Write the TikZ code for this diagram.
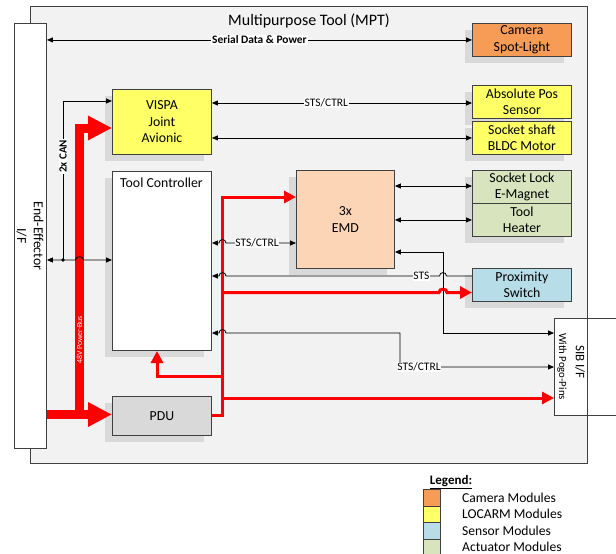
\documentclass[tikz,border=0pt]{standalone}
\usepackage{fontspec}
\setmainfont{Carlito}
\usetikzlibrary{arrows.meta,shadows}
\definecolor{bord}{HTML}{404040}
\definecolor{mptbg}{HTML}{F2F2F2}
\definecolor{shadowc}{HTML}{D9D9D9}
\definecolor{camc}{HTML}{F69C56}
\definecolor{locc}{HTML}{FFFF66}
\definecolor{senc}{HTML}{B7DDE8}
\definecolor{actc}{HTML}{D7E4BD}
\definecolor{emdc}{HTML}{FBD5B5}
\definecolor{pduc}{HTML}{D9D9D9}
\definecolor{pred}{HTML}{FF0000}
\begin{document}
\begin{tikzpicture}[x=1pt,y=-1pt,
  box/.style={draw=bord, line width=0.9pt, inner sep=0pt, anchor=north west, align=center,
    font=\fontsize{13.8}{16.6}\selectfont},
  shad/.style={drop shadow={shadow xshift=-7pt,shadow yshift=-7pt,fill=shadowc,opacity=1}},
  txt/.style={inner sep=0pt, align=center, font=\fontsize{13.8}{16.6}\selectfont},
  arr/.style={line width=0.8pt, -{Triangle[length=6pt,width=5pt]}},
  biarr/.style={line width=0.8pt, {Triangle[length=6pt,width=5pt]}-{Triangle[length=6pt,width=5pt]}},
  lbl/.style={fill=white, inner sep=0.8pt, font=\fontsize{11.5}{13}\selectfont},
  redthin/.style={draw=pred, line width=3pt, -{Triangle[length=12pt,width=12pt]}},
  redthick/.style={draw=pred, line width=9pt, -{Triangle[length=24pt,width=23pt]}},
  legsq/.style={draw=bord, line width=0.6pt, anchor=north west, minimum width=17pt, minimum height=16.7pt, inner sep=0pt},
  legtxt/.style={anchor=west, inner sep=0pt, font=\fontsize{13.6}{16}\selectfont}
]
\useasboundingbox (0,0) rectangle (616,554);
\clip (0,0) rectangle (616,554);

% MPT background
\fill[mptbg] (30,6) rectangle (587,463);
% SIB box
\node[box, fill=white, minimum width=80pt, minimum height=97pt] (sib) at (554,318) {};
% MPT frame
\draw[bord, line width=0.9pt] (30,6) rectangle (587,463);
\node[txt, font=\fontsize{16}{19}\selectfont] (title) at (309,21) {Multipurpose Tool (MPT)};

% End-effector
\node[box, fill=white, minimum width=32pt, minimum height=425pt] (ee) at (14,23) {};
\node[txt, rotate=-90] (eetxt) at (30,236) {End-Effector\\I/F};

% Boxes
\node[box, shad, fill=camc, minimum width=99pt, minimum height=33pt] (cam) at (472,23) {Camera\\Spot-Light};
\node[box, shad, fill=locc, minimum width=99pt, minimum height=33pt] (abs) at (472,85) {Absolute Pos\\Sensor};
\node[box, shad, fill=locc, minimum width=99pt, minimum height=33pt] (bldc) at (472,121) {Socket shaft\\BLDC Motor};
\node[box, shad, fill=actc, minimum width=99pt, minimum height=33pt] (lock) at (472,170) {Socket Lock\\E-Magnet};
\node[box, shad, fill=actc, minimum width=99pt, minimum height=33pt] (heat) at (472,203) {Tool\\Heater};
\node[box, shad, fill=senc, minimum width=99pt, minimum height=33pt] (prox) at (472,268) {Proximity\\Switch};
\node[box, shad, fill=locc, minimum width=99pt, minimum height=65pt] (vispa) at (112,89) {VISPA\\Joint\\Avionic};
\node[box, shad, fill=white, minimum width=99pt, minimum height=179pt] (tc) at (112,171) {};
\node[txt] (tctxt) at (161.5,183) {Tool Controller};
\node[box, shad, fill=pduc, minimum width=99pt, minimum height=39pt] (pdu) at (112,396) {PDU};
\node[box, shad, fill=emdc, minimum width=98pt, minimum height=98pt] (emd) at (296,170) {3x\\EMD};

% SIB texts
\node[txt, rotate=-90, font=\fontsize{13}{15}\selectfont] (sibtxt) at (580,362) {SIB I/F};
\node[txt, rotate=-90, font=\fontsize{10.8}{13}\selectfont] (pogotxt) at (562,366.5) {With Pogo-Pins};

% Red thick power bus
\draw[redthick, line join=miter] (79.5,414.5) -- (79.5,128) -- (vispa.west |- 0,128);
\draw[redthick] (ee.east |- 0,414.5) -- (pdu.west |- 0,414.5);
\node[inner sep=0pt, rotate=90, text=white, font=\fontsize{7.8}{9}\selectfont] (bus) at (79.5,340) {48V Power-Bus};

% Red thin power lines
\coordinate (tcin) at (157,351);
\draw[redthin, line join=miter] (pdu.east |- 0,415.5) -- (222.5,415.5) -- (222.5,197) -- (emd.west |- 0,197);
\draw[redthin] (222.5,292.5) -- (439,292.5) .. controls (439,288) and (447,288) .. (447,292.5) -- (prox.west |- 0,292.5);
\draw[redthin] (222.5,398) -- (sib.west |- 0,398);
\draw[redthin, line join=miter] (222.5,376) -- (157,376) -- (tcin);

% Serial data
\draw[biarr] (ee.east |- cam.west) -- (cam.west) node[lbl, pos=0.5, font=\fontsize{11.4}{13}\selectfont\bfseries] (serl) {Serial Data \& Power};
% VISPA links
\draw[biarr] (vispa.east |- 0,103) -- (abs.west |- 0,103) node[lbl, pos=0.44] (l1) {STS/CTRL};
\draw[biarr] (vispa.east |- bldc.west) -- (bldc.west);
% CAN
\coordinate (canj) at (63,260);
\draw[biarr] (ee.east |- canj) -- (75.5,260) .. controls (75.5,255.5) and (83.5,255.5) .. (83.5,260) -- (tc.west |- canj);
\fill (canj) circle[radius=1.9pt];
\draw[arr] (canj) -- (63,101) -- (vispa.west |- 0,101);
\node[lbl, rotate=90, font=\fontsize{11}{13}\selectfont\bfseries] (canl) at (63,156.5) {2x CAN};
% EMD links
\draw[biarr] (emd.east |- 0,186) -- (lock.west |- 0,186);
\draw[biarr] (emd.east |- heat.west) -- (heat.west);
\draw[biarr] (tc.east |- 0,243) -- (219,243) .. controls (219,238.5) and (226,238.5) .. (226,243) -- (emd.west |- 0,243);
\node[lbl] (l2) at (257,243) {STS/CTRL};
\draw[biarr] (emd.east |- 0,252) -- (443,252) -- (443,333) -- (sib.west |- 0,333);
% STS from proximity
\draw[arr] (prox.west |- 0,276) -- (446.5,276) .. controls (446.5,271.5) and (439.5,271.5) .. (439.5,276) -- (226,276) .. controls (226,271.5) and (219,271.5) .. (219,276) -- (tc.east |- 0,276);
\node[lbl] (l3) at (421.5,276) {STS};
% TC to SIB
\draw[biarr] (tc.east |- 0,333) -- (219,333) .. controls (219,328.5) and (226,328.5) .. (226,333) -- (400,333) -- (400,367) -- (sib.west |- 0,367);
\node[lbl] (l4) at (419,367) {STS/CTRL};

% Legend
\node[inner sep=0pt, font=\fontsize{13}{15}\selectfont\bfseries] (legt) at (451,482) {\underline{Legend:}};
\node[legsq, fill=camc] (lg1) at (423,489) {};
\node[legsq, fill=locc] (lg2) at (423,505.7) {};
\node[legsq, fill=senc] (lg3) at (423,522.4) {};
\node[legsq, fill=actc] (lg4) at (423,539.1) {};
\node[legtxt] (lt1) at (462,498) {Camera Modules};
\node[legtxt] (lt2) at (462,514) {LOCARM Modules};
\node[legtxt] (lt3) at (462,531) {Sensor Modules};
\node[legtxt] (lt4) at (462,547) {Actuator Modules};
\end{tikzpicture}
\end{document}
